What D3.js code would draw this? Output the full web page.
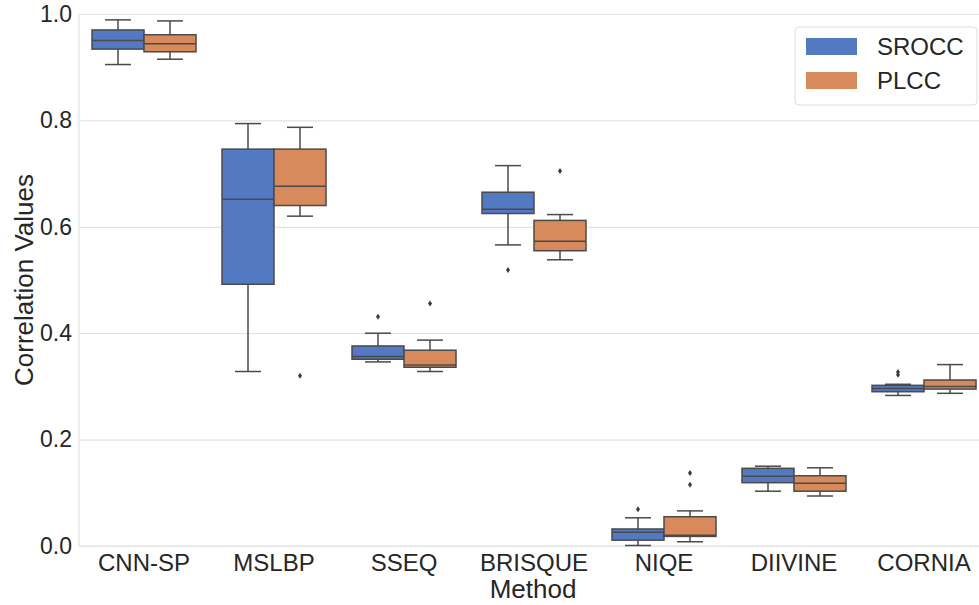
<!DOCTYPE html>
<html>
<head>
<meta charset="utf-8">
<script src="https://cdn.jsdelivr.net/npm/d3@7"></script>
<style>
  html, body { margin: 0; padding: 0; background: #ffffff; }
  svg { display: block; font-family: "Liberation Sans", Arial, sans-serif; }
</style>
</head>
<body>
<svg id="chart" width="979" height="605"></svg>
<script>
// Categories and series
const methods = ["CNN-SP", "MSLBP", "SSEQ", "BRISQUE", "NIQE", "DIIVINE", "CORNIA"];
const seriesNames = ["SROCC", "PLCC"];

// SROCC box summaries (one entry per method)
const sroccLow    = [0.905, 0.328, 0.346, 0.566, 0.001, 0.103, 0.283];
const sroccQ1     = [0.934, 0.492, 0.351, 0.625, 0.011, 0.119, 0.290];
const sroccMedian = [0.950, 0.652, 0.356, 0.633, 0.026, 0.131, 0.296];
const sroccQ3     = [0.970, 0.746, 0.376, 0.665, 0.032, 0.146, 0.302];
const sroccHigh   = [0.989, 0.794, 0.400, 0.715, 0.053, 0.150, 0.304];
const sroccOutliers = [[], [], [0.431], [0.519], [0.069], [], [0.327, 0.322]];

// PLCC box summaries
const plccLow    = [0.915, 0.620, 0.328, 0.538, 0.008, 0.094, 0.287];
const plccQ1     = [0.929, 0.640, 0.336, 0.555, 0.018, 0.103, 0.295];
const plccMedian = [0.944, 0.676, 0.340, 0.573, 0.020, 0.118, 0.300];
const plccQ3     = [0.961, 0.746, 0.368, 0.612, 0.055, 0.132, 0.312];
const plccHigh   = [0.987, 0.787, 0.387, 0.623, 0.066, 0.147, 0.341];
const plccOutliers = [[], [0.320], [0.456], [0.705], [0.137, 0.115], [], []];

// Axis ticks
const yTicks = [0.0, 0.2, 0.4, 0.6, 0.8, 1.0];

const colors = { SROCC: "#5479c3", PLCC: "#d98a5c" };
const lineColor = "#4a4a4a";
const textColor = "#262626";
const gridColor = "#e2e2e2";

function summaries(name) {
  const src = name === "SROCC"
    ? [sroccLow, sroccQ1, sroccMedian, sroccQ3, sroccHigh, sroccOutliers]
    : [plccLow, plccQ1, plccMedian, plccQ3, plccHigh, plccOutliers];
  return methods.map((m, i) => ({
    method: m, series: name,
    low: src[0][i], q1: src[1][i], med: src[2][i], q3: src[3][i], high: src[4][i],
    outliers: src[5][i]
  }));
}
const boxes = seriesNames.flatMap(summaries);

const svg = d3.select("#chart");
const margin = { left: 79, top: 14, bottom: 546, right: 989 };

const x = d3.scaleBand().domain(methods).range([margin.left, margin.right]).padding(0);
const bw = x.bandwidth();
const xs = d3.scaleBand().domain(seriesNames).range([bw * 0.1, bw * 0.9]).padding(0);
const y = d3.scaleLinear().domain([0, 1]).range([margin.bottom, margin.top]);

// Horizontal grid
svg.append("g")
  .attr("transform", `translate(${margin.left},0)`)
  .call(d3.axisLeft(y).tickValues(yTicks).tickSize(-(margin.right - margin.left)).tickFormat(""))
  .call(g => g.select(".domain").remove())
  .call(g => g.selectAll(".tick line").attr("stroke", gridColor).attr("stroke-width", 1.2));

// Spines
svg.append("line").attr("x1", margin.left).attr("x2", margin.left)
  .attr("y1", margin.top).attr("y2", margin.bottom)
  .attr("stroke", gridColor).attr("stroke-width", 1.2);
svg.append("line").attr("x1", margin.left).attr("x2", margin.right)
  .attr("y1", margin.bottom).attr("y2", margin.bottom)
  .attr("stroke", gridColor).attr("stroke-width", 1.2);

// Y axis labels
svg.append("g")
  .attr("transform", `translate(${margin.left},0)`)
  .call(d3.axisLeft(y).tickValues(yTicks).tickSize(0).tickPadding(7).tickFormat(d3.format(".1f")))
  .call(g => g.select(".domain").remove())
  .call(g => g.selectAll("text")
    .attr("fill", textColor).attr("font-size", 23)
    .attr("font-family", "Liberation Sans, Arial, sans-serif"));

// X axis labels
svg.append("g")
  .attr("transform", `translate(0,${margin.bottom})`)
  .call(d3.axisBottom(x).tickSize(0).tickPadding(8))
  .call(g => g.select(".domain").remove())
  .call(g => g.selectAll("text")
    .attr("fill", textColor).attr("font-size", 24)
    .attr("font-family", "Liberation Sans, Arial, sans-serif"));

// Axis titles
svg.append("text")
  .attr("x", 533).attr("y", 598)
  .attr("text-anchor", "middle").attr("fill", textColor).attr("font-size", 26)
  .text("Method");
svg.append("text")
  .attr("transform", `translate(33,${(margin.top + margin.bottom) / 2}) rotate(-90)`)
  .attr("text-anchor", "middle").attr("fill", textColor).attr("font-size", 26)
  .text("Correlation Values");

// Box plots
const g = svg.append("g");
const groups = g.selectAll("g.box").data(boxes).join("g")
  .attr("class", "box")
  .attr("transform", d => `translate(${x(d.method) + xs(d.series)},0)`);
const w = xs.bandwidth();
const capW = w * 0.5;

groups.append("line") // lower whisker
  .attr("x1", w / 2).attr("x2", w / 2)
  .attr("y1", d => y(d.q1)).attr("y2", d => y(d.low))
  .attr("stroke", lineColor).attr("stroke-width", 1.5);
groups.append("line") // upper whisker
  .attr("x1", w / 2).attr("x2", w / 2)
  .attr("y1", d => y(d.q3)).attr("y2", d => y(d.high))
  .attr("stroke", lineColor).attr("stroke-width", 1.5);
groups.append("line") // lower cap
  .attr("x1", w / 2 - capW / 2).attr("x2", w / 2 + capW / 2)
  .attr("y1", d => y(d.low)).attr("y2", d => y(d.low))
  .attr("stroke", lineColor).attr("stroke-width", 1.5);
groups.append("line") // upper cap
  .attr("x1", w / 2 - capW / 2).attr("x2", w / 2 + capW / 2)
  .attr("y1", d => y(d.high)).attr("y2", d => y(d.high))
  .attr("stroke", lineColor).attr("stroke-width", 1.5);
groups.append("rect")
  .attr("x", 0).attr("width", w)
  .attr("y", d => y(d.q3)).attr("height", d => y(d.q1) - y(d.q3))
  .attr("fill", d => colors[d.series])
  .attr("stroke", lineColor).attr("stroke-width", 1.5);
groups.append("line") // median
  .attr("x1", 0).attr("x2", w)
  .attr("y1", d => y(d.med)).attr("y2", d => y(d.med))
  .attr("stroke", lineColor).attr("stroke-width", 1.5);
groups.selectAll("path.flier").data(d => d.outliers).join("path")
  .attr("class", "flier")
  .attr("d", "M0,-3 L2,0 L0,3 L-2,0 Z")
  .attr("transform", v => `translate(${w / 2},${y(v)})`)
  .attr("fill", "#3a3a3a");

// Legend
const legend = svg.append("g").attr("transform", "translate(795,27)");
legend.append("rect")
  .attr("x", 0).attr("y", 0).attr("width", 182).attr("height", 78)
  .attr("rx", 4).attr("fill", "#ffffff").attr("fill-opacity", 0.8)
  .attr("stroke", "#dddddd").attr("stroke-width", 1);
seriesNames.forEach((name, i) => {
  const row = legend.append("g").attr("transform", `translate(0,${i * 34})`);
  row.append("rect")
    .attr("x", 11).attr("y", 11).attr("width", 51).attr("height", 17)
    .attr("fill", colors[name]);
  row.append("text")
    .attr("x", 82).attr("y", 28)
    .attr("fill", textColor).attr("font-size", 24)
    .text(name);
});
</script>
</body>
</html>
